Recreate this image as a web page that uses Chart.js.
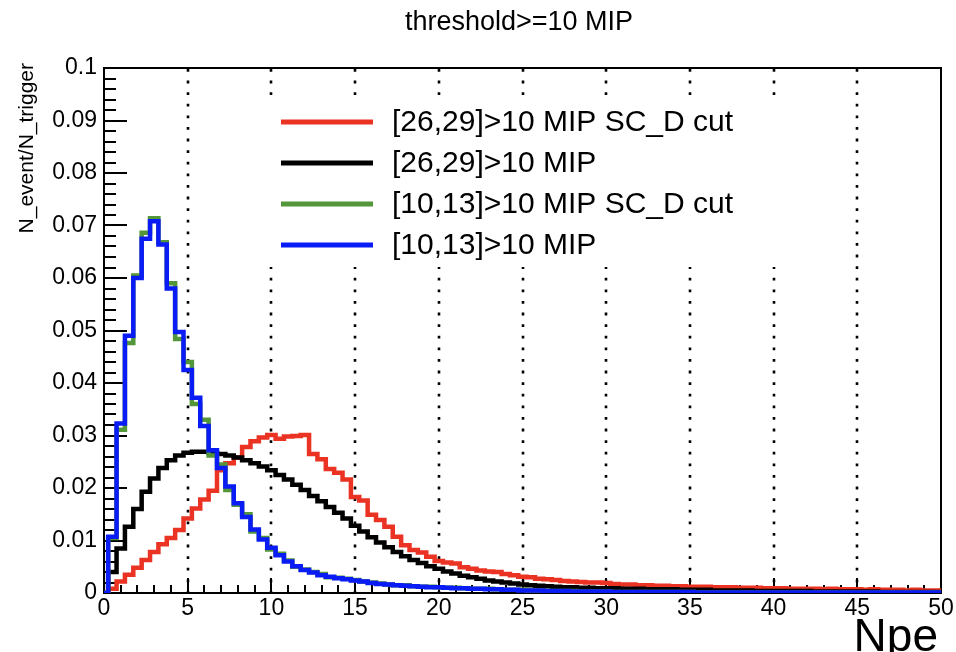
<!DOCTYPE html>
<html>
<head>
<meta charset="utf-8">
<script src="https://cdn.jsdelivr.net/npm/chart.js@4.4.0/dist/chart.umd.min.js"></script>
<style>
  html, body { margin: 0; padding: 0; background: #fff; }
  canvas { display: block; }
</style>
</head>
<body>
<canvas id="histo" width="956" height="652"></canvas>
<script>
// --- DADOS ---
const npeBins = [
  0, 0.5, 1, 1.5, 2, 2.5, 3, 3.5, 4, 4.5, 5, 5.5, 6, 6.5, 7, 7.5, 8, 8.5, 9, 9.5,
  10, 10.5, 11, 11.5, 12, 12.5, 13, 13.5, 14, 14.5, 15, 15.5, 16, 16.5, 17, 17.5, 18, 18.5, 19, 19.5,
  20, 20.5, 21, 21.5, 22, 22.5, 23, 23.5, 24, 24.5, 25, 25.5, 26, 26.5, 27, 27.5, 28, 28.5, 29, 29.5,
  30, 30.5, 31, 31.5, 32, 32.5, 33, 33.5, 34, 34.5, 35, 35.5, 36, 36.5, 37, 37.5, 38, 38.5, 39, 39.5,
  40, 40.5, 41, 41.5, 42, 42.5, 43, 43.5, 44, 44.5, 45, 45.5, 46, 46.5, 47, 47.5, 48, 48.5, 49, 49.5, 50
];

// [26,29]>10 MIP SC_D cut
const cut2629 = [
  0, 0.0008, 0.0022, 0.0035, 0.0048, 0.0063, 0.0078, 0.0093, 0.0105, 0.0120,
  0.0142, 0.0161, 0.0178, 0.0195, 0.0234, 0.0247, 0.0258, 0.0278, 0.0289, 0.0296,
  0.0301, 0.0294, 0.0298, 0.0299, 0.0301, 0.0265, 0.0255, 0.0236, 0.0229, 0.0216,
  0.0183, 0.0176, 0.0149, 0.0139, 0.0126, 0.0107, 0.0091, 0.0082, 0.0077, 0.0069,
  0.0061, 0.0058, 0.0056, 0.0049, 0.0046, 0.0043, 0.0041, 0.0040, 0.0036, 0.0034,
  0.0031, 0.0030, 0.0027, 0.0026, 0.0025, 0.0023, 0.0022, 0.0021, 0.0020, 0.0020,
  0.0019, 0.0017, 0.0016, 0.0016, 0.0015, 0.0015, 0.0014, 0.0014, 0.0013, 0.0013,
  0.0012, 0.0012, 0.0012, 0.0011, 0.0011, 0.0011, 0.0010, 0.0010, 0.0010, 0.0009,
  0.0009, 0.0009, 0.0008, 0.0008, 0.0008, 0.0008, 0.0007, 0.0008, 0.0007, 0.0007,
  0.0007, 0.0006, 0.0007, 0.0006, 0.0006, 0.0006, 0.0005, 0.0006, 0.0005, 0.0005,
  0.0005
];

// [26,29]>10 MIP
const all2629 = [
  0, 0.0040, 0.0085, 0.0126, 0.0160, 0.0193, 0.0218, 0.0238, 0.0253, 0.0262,
  0.0267, 0.0269, 0.0269, 0.0267, 0.0265, 0.0262, 0.0258, 0.0253, 0.0247, 0.0241,
  0.0234, 0.0225, 0.0216, 0.0206, 0.0196, 0.0185, 0.0175, 0.0164, 0.0153, 0.0142,
  0.0128, 0.0117, 0.0106, 0.0096, 0.0087, 0.0078, 0.0070, 0.0063, 0.0057, 0.0051,
  0.0046, 0.0041, 0.0037, 0.0033, 0.0030, 0.0027, 0.0024, 0.0022, 0.0020, 0.0018,
  0.0016, 0.0015, 0.0014, 0.0013, 0.0012, 0.0011, 0.0011, 0.0010, 0.0010, 0.0009,
  0.0009, 0.0009, 0.0008, 0.0008, 0.0008, 0.0007, 0.0007, 0.0007, 0.0007, 0.0006,
  0.0006, 0.0006, 0.0006, 0.0005, 0.0005, 0.0005, 0.0005, 0.0005, 0.0004, 0.0004,
  0.0004, 0.0004, 0.0004, 0.0004, 0.0004, 0.0003, 0.0003, 0.0003, 0.0003, 0.0003,
  0.0003, 0.0003, 0.0003, 0.0002, 0.0002, 0.0002, 0.0002, 0.0002, 0.0002, 0.0002,
  0.0002
];

// [10,13]>10 MIP SC_D cut
const cut1013 = [
  0, 0.0105, 0.0311, 0.0476, 0.0605, 0.0686, 0.0714, 0.0668, 0.0590, 0.0484,
  0.0440, 0.0360, 0.0330, 0.0262, 0.0245, 0.0196, 0.0168, 0.0150, 0.0117, 0.0105,
  0.0083, 0.0075, 0.0062, 0.0050, 0.0045, 0.0040, 0.0036, 0.0030, 0.0029, 0.0027,
  0.0025, 0.0022, 0.0020, 0.0018, 0.0016, 0.0015, 0.0015, 0.0013, 0.0012, 0.0012,
  0.0011, 0.0010, 0.0010, 0.0009, 0.0008, 0.0008, 0.0008, 0.0007, 0.0006, 0.0006,
  0.0006, 0.0005, 0.0005, 0.0004, 0.0004, 0.0004, 0.0004, 0.0003, 0.0003, 0.0003,
  0.0003, 0.0002, 0.0002, 0.0002, 0.0002, 0.0002, 0.0002, 0.0002, 0.0002, 0.0002,
  0.0002, 0.0001, 0.0001, 0.0001, 0.0001, 0.0001, 0.0001, 0.0001, 0.0001, 0.0001,
  0.0001, 0.0001, 0.0001, 0.0001, 0.0001, 0.0001, 0.0001, 0.0001, 0.0001, 0.0001,
  0.0001, 0.0001, 0.0001, 0.0001, 0.0001, 0.0001, 0.0001, 0.0001, 0.0001, 0.0001,
  0.0001
];

// [10,13]>10 MIP
const all1013 = [
  0, 0.0107, 0.0323, 0.0490, 0.0600, 0.0675, 0.0708, 0.0664, 0.0580, 0.0497,
  0.0425, 0.0372, 0.0318, 0.0272, 0.0238, 0.0203, 0.0171, 0.0145, 0.0121, 0.0102,
  0.0086, 0.0072, 0.0060, 0.0051, 0.0044, 0.0039, 0.0034, 0.0031, 0.0028, 0.0026,
  0.0024, 0.0022, 0.0019, 0.0017, 0.0016, 0.0015, 0.0014, 0.0013, 0.0012, 0.0011,
  0.0011, 0.0010, 0.0009, 0.0009, 0.0008, 0.0008, 0.0007, 0.0007, 0.0006, 0.0006,
  0.0005, 0.0005, 0.0005, 0.0004, 0.0004, 0.0004, 0.0003, 0.0003, 0.0003, 0.0003,
  0.0003, 0.0002, 0.0002, 0.0002, 0.0002, 0.0002, 0.0002, 0.0002, 0.0002, 0.0002,
  0.0002, 0.0001, 0.0001, 0.0001, 0.0001, 0.0001, 0.0001, 0.0001, 0.0001, 0.0001,
  0.0001, 0.0001, 0.0001, 0.0001, 0.0001, 0.0001, 0.0001, 0.0001, 0.0001, 0.0001,
  0.0001, 0.0001, 0.0001, 0.0001, 0.0001, 0.0001, 0.0001, 0.0001, 0.0001, 0.0001,
  0.0001
];

const seriesNames = ['[26,29]>10 MIP SC_D cut', '[26,29]>10 MIP', '[10,13]>10 MIP SC_D cut', '[10,13]>10 MIP'];
const xTickValues = [0, 5, 10, 15, 20, 25, 30, 35, 40, 45, 50];
const xTickLabels = ['0', '5', '10', '15', '20', '25', '30', '35', '40', '45', '50'];
const yTickValues = [0, 0.01, 0.02, 0.03, 0.04, 0.05, 0.06, 0.07, 0.08, 0.09, 0.1];
const yTickLabels = ['0', '0.01', '0.02', '0.03', '0.04', '0.05', '0.06', '0.07', '0.08', '0.09', '0.1'];
const plotTitle = 'threshold>=10 MIP';
const xTitle = 'Npe';
const yTitle = 'N_event/N_trigger';

// --- ESTILO ---
const FONT = '"Liberation Sans", Arial, Helvetica, sans-serif';
const colors = ['#eb3323', '#000000', '#54963a', '#0a1cf5'];

// --- PLUGIN: moldura, ticks internos, grelha, legenda, titulos ---
const rootFrame = {
  id: 'rootFrame',
  beforeDatasetsDraw(chart) {
    const { ctx, chartArea: a, scales: { x, y } } = chart;
    ctx.save();
    ctx.strokeStyle = '#000';

    // grelha pontilhada so no eixo x
    ctx.lineWidth = 2.6;
    ctx.setLineDash([2.8, 8.8]);
    xTickValues.slice(1, -1).forEach(v => {
      const px = Math.round(x.getPixelForValue(v));
      ctx.beginPath();
      ctx.moveTo(px, a.top + 1);
      ctx.lineTo(px, a.bottom);
      ctx.stroke();
    });
    ctx.setLineDash([]);

    // ticks para dentro
    ctx.lineWidth = 2;
    ctx.beginPath();
    for (let i = 0; i <= 50; i++) {
      const py = Math.round(y.getPixelForValue(i * 0.002));
      const len = i % 5 === 0 ? 23 : 12;
      ctx.moveTo(a.left, py);
      ctx.lineTo(a.left + len, py);
    }
    for (let i = 0; i <= 50; i++) {
      const px = Math.round(x.getPixelForValue(i));
      const len = i % 5 === 0 ? 15 : 8;
      ctx.moveTo(px, a.bottom);
      ctx.lineTo(px, a.bottom - len);
    }
    ctx.stroke();
    ctx.strokeRect(a.left, a.top, a.right - a.left, a.bottom - a.top);
    ctx.restore();
  },
  afterDraw(chart) {
    const { ctx, chartArea: a } = chart;
    ctx.save();

    // legenda (caixa branca sem borda, como no ROOT)
    ctx.fillStyle = '#fff';
    ctx.fillRect(262, 99, 560, 168);
    ctx.font = '30px ' + FONT;
    ctx.textBaseline = 'middle';
    ctx.textAlign = 'left';
    seriesNames.forEach((name, i) => {
      const ly = 122 + i * 41;
      ctx.strokeStyle = colors[i];
      ctx.lineWidth = 5;
      ctx.beginPath();
      ctx.moveTo(281, ly);
      ctx.lineTo(373, ly);
      ctx.stroke();
      ctx.fillStyle = '#000';
      ctx.fillText(name, 392, ly + 1);
    });

    // titulo
    ctx.fillStyle = '#000';
    ctx.font = '27px ' + FONT;
    ctx.textAlign = 'center';
    ctx.fillText(plotTitle, 519, 23);

    // titulo eixo x
    ctx.font = '46px ' + FONT;
    ctx.textAlign = 'right';
    ctx.textBaseline = 'alphabetic';
    ctx.fillText(xTitle, a.right - 3, 651);

    // titulo eixo y
    ctx.font = '21px ' + FONT;
    ctx.translate(27, a.top - 5);
    ctx.rotate(-Math.PI / 2);
    ctx.textAlign = 'right';
    ctx.textBaseline = 'middle';
    ctx.fillText(yTitle, 0, 0);
    ctx.restore();
  }
};

// --- GRAFICO ---
const histos = [cut2629, all2629, cut1013, all1013].map((vals, i) => ({
  label: seriesNames[i],
  data: npeBins.map((x, k) => ({ x, y: vals[k] })),
  borderColor: colors[i],
  borderWidth: 4.5,
  stepped: 'middle',
  pointRadius: 0,
  fill: false,
  tension: 0,
  borderJoinStyle: 'miter',
  order: 3 - i
}));

new Chart(document.getElementById('histo').getContext('2d'), {
  type: 'line',
  data: { datasets: histos },
  options: {
    responsive: false,
    animation: false,
    devicePixelRatio: 1,
    layout: { padding: { left: 0, right: 15, top: 68, bottom: 0 } },
    plugins: {
      legend: { display: false },
      tooltip: { enabled: false },
      title: { display: false }
    },
    scales: {
      x: {
        type: 'linear',
        min: 0,
        max: 50,
        afterFit: s => { s.height = 59; },
        afterBuildTicks: s => { s.ticks = xTickValues.map(v => ({ value: v })); },
        ticks: {
          callback: (v, i) => xTickLabels[i],
          font: { family: FONT, size: 23 },
          color: '#000',
          padding: 2,
          maxRotation: 0,
          autoSkip: false
        },
        grid: { display: false, drawTicks: false },
        border: { display: false }
      },
      y: {
        type: 'linear',
        min: 0,
        max: 0.1,
        afterFit: s => { s.width = 104; },
        afterBuildTicks: s => { s.ticks = yTickValues.map(v => ({ value: v })); },
        ticks: {
          callback: (v, i) => yTickLabels[i],
          font: { family: FONT, size: 23 },
          color: '#000',
          padding: 7,
          autoSkip: false
        },
        grid: { display: false, drawTicks: false },
        border: { display: false }
      }
    }
  },
  plugins: [rootFrame]
});
</script>
</body>
</html>
